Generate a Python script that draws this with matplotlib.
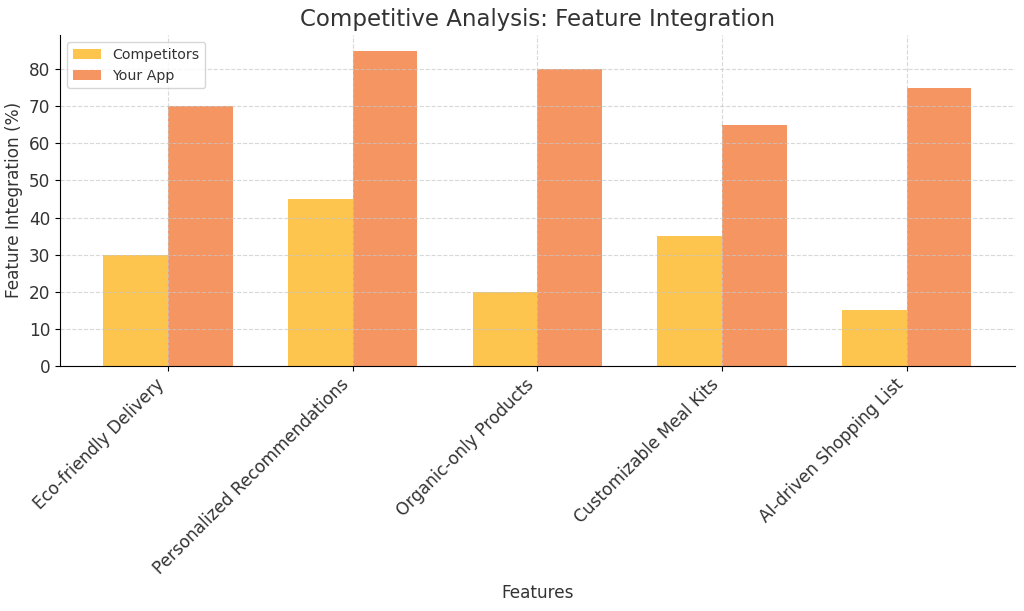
import numpy as np
import matplotlib.pyplot as plt

features = ['Eco-friendly Delivery', 'Personalized Recommendations', 'Organic-only Products',
            'Customizable Meal Kits', 'AI-driven Shopping List']
competitors = [30, 45, 20, 35, 15]
your_app = [70, 85, 80, 65, 75]

x = np.arange(len(features))
width = 0.35

fig, ax = plt.subplots(figsize=(10.24, 6.11), dpi=100)
fig.subplots_adjust(left=0.0586, right=0.991, top=0.943, bottom=0.401)

ax.bar(x - width / 2, competitors, width, label='Competitors', color='#FDC44E')
ax.bar(x + width / 2, your_app, width, label='Your App', color='#F59562')

ax.set_title('Competitive Analysis: Feature Integration', fontsize=16.5, color='#333333')
ax.set_xlabel('Features', fontsize=12.2, color='#333333')
ax.set_ylabel('Feature Integration (%)', fontsize=12.2, color='#333333')
ax.set_xticks(x)
ax.set_xticklabels(features, rotation=45, ha='right', fontsize=12.2, color='#333333')
ax.tick_params(axis='y', labelsize=12.2, labelcolor='#333333')
ax.legend(loc='upper left', fontsize=10.2, labelcolor='#333333')

ax.grid(True, linestyle='--', alpha=0.7, color='#c8c8c8')
ax.spines['top'].set_visible(False)
ax.spines['right'].set_visible(False)

plt.savefig('out.png')
